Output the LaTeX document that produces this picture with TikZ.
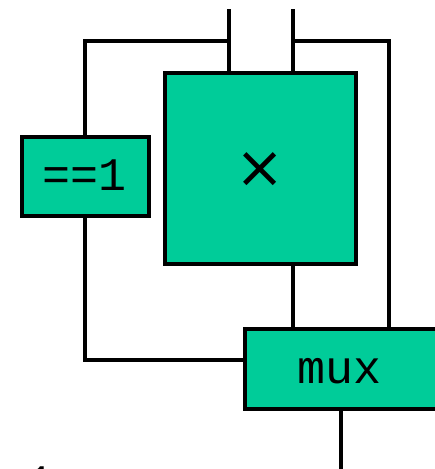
\documentclass[tikz,border=0pt]{standalone}
\usepackage{fontspec}
\newfontfamily\monof{Liberation Mono}
\newfontfamily\symf{DejaVu Sans}
\definecolor{boxgreen}{RGB}{0,204,153}
\tikzset{
  unit/.style={draw=black, fill=boxgreen, line width=3pt, inner sep=0pt, rectangle},
  wire/.style={line width=3pt, line cap=butt},
  lbl/.style={font=\monof\fontsize{35}{40}\selectfont, inner sep=0pt}
}
\begin{document}
\begin{tikzpicture}[x=0.75pt,y=-0.75pt]
\useasboundingbox (0,0) rectangle (435,469);
\clip (0,0) rectangle (435,469);
% blocks
\node[unit, minimum width=127.5*0.75pt, minimum height=79.5*0.75pt] (eq) at (85.3,176.3) {};
\node[lbl, anchor=base] (eqt) at (85,190) {==1};
\node[unit, minimum width=191*0.75pt, minimum height=191*0.75pt] (mul) at (260.5,168.5) {};
\node[font=\symf\fontsize{44}{48}\selectfont, inner sep=0pt] (times) at (260.5,170.5) {×};
\node[unit, minimum width=195*0.75pt, minimum height=80*0.75pt] (mux) at (342.5,368.5) {};
\node[lbl, anchor=base] (muxt) at (340,383) {mux};
% coordinates
\coordinate (inA) at (229,9);
\coordinate (inB) at (293,9);
\coordinate (jA) at (229,41);
\coordinate (jB) at (293,41);
\coordinate (cR) at (389,41);
\coordinate (lm) at (245,360);
\coordinate (out) at (341,469);
% wires
\draw[wire] (inA) -- (inA |- mul.north);
\draw[wire] (inB) -- (inB |- mul.north);
\draw[wire] (jA) -| (eq.north);
\draw[wire] (jB) -- (cR) -- (cR |- mux.north);
\draw[wire] (eq.south) |- (lm);
\draw[wire] (jB |- mul.south) -- (jB |- mux.north);
\draw[wire] (out |- mux.south) -- (out);
% partially visible label at bottom edge
\node[lbl, anchor=base] (one) at (41,497) {1};
\end{tikzpicture}
\end{document}
